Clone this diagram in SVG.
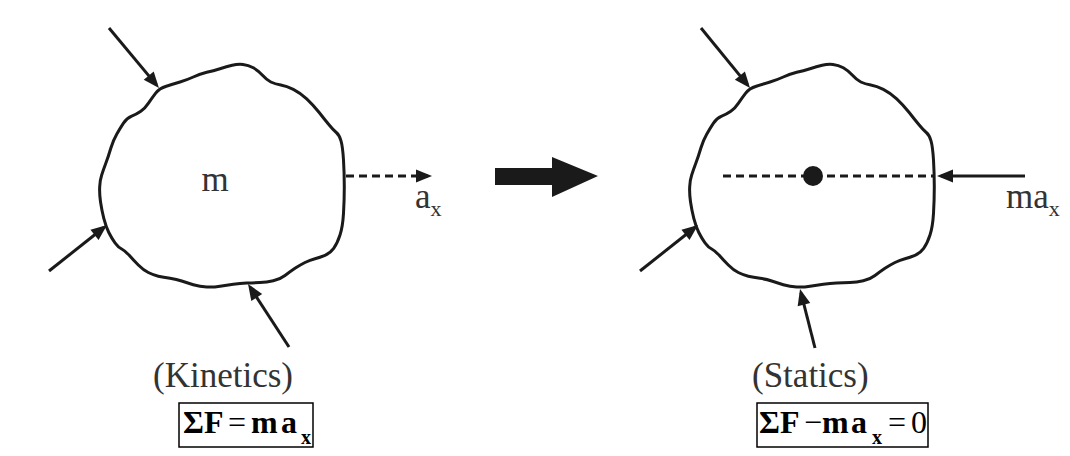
<svg xmlns="http://www.w3.org/2000/svg" width="1070" height="456" viewBox="0 0 1070 456">
<style>
.blob{fill:none;stroke:#1a1a1a;stroke-width:3;stroke-linejoin:round}
.arr{fill:none;stroke:#1a1a1a;stroke-width:3}
.dash{fill:none;stroke:#1a1a1a;stroke-width:3;stroke-dasharray:8 5}
.lbl{font-family:"Liberation Serif","Times New Roman",serif;font-size:35px;fill:#333}
.sub{font-size:22px}
.eq{font-family:"Liberation Serif","Times New Roman",serif;font-size:32px;fill:#000}
.b{font-weight:bold}
.box{fill:none;stroke:#000;stroke-width:1.5}
</style>
<defs>
<marker id="ah" markerUnits="userSpaceOnUse" markerWidth="16" markerHeight="13" refX="12" refY="6.5" orient="auto" overflow="visible">
<path d="M0,0 L16,6.5 L0,13 z" fill="#1a1a1a"/>
</marker>
<path id="blobpath" d="M155.5,93.3 Q159.3,88.3 166.3,86.2 Q173.3,84 180,82 Q186.7,80 193.3,77 Q200,74 206.7,72.3 Q213.3,70.7 220,68.7 Q226.7,66.7 232.2,65.3 Q237.7,64 243,64.5 Q248.3,65 253.3,67.8 Q258.3,70.7 262.5,75.3 Q266.7,80 270.8,82 Q275,84 280.8,85 Q286.7,86 293.3,89.3 Q300,92.7 306.7,98.8 Q313.3,105 319.2,112.5 Q325,120 329.2,125 Q333.3,130 336.3,132.5 Q339.3,135 341,140.8 Q342.7,146.7 343.5,160 Q344.3,173.3 344.3,186.7 Q344.3,200 343.5,213.3 Q342.7,226.7 340,235 Q337.3,243.3 333.7,248.3 Q330,253.3 325,255.3 Q320,257.3 315,258.7 Q310,260 305,262.5 Q300,265 295,268.3 Q290,271.7 285,275.5 Q280,279.3 273.3,280.8 Q266.7,282.3 260,282.5 Q253.3,282.7 246.7,283 Q240,283.3 233.3,284.2 Q226.7,285 220,286.2 Q213.3,287.3 206.7,287 Q200,286.7 193.3,284.7 Q186.7,282.7 181.7,281 Q176.7,279.3 170,278.3 Q163.3,277.3 158.3,276.2 Q153.3,275 148.3,272.5 Q143.3,270 138.3,265 Q133.3,260 129.2,255.3 Q125,250.7 121.7,249 Q118.3,247.3 115,242.8 Q111.7,238.3 108.8,232.5 Q106,226.7 103.8,218.3 Q101.7,210 100.5,201.7 Q99.3,193.3 99.7,186.7 Q100,180 101.7,175 Q103.3,170 105.8,163.3 Q108.3,156.7 110.8,148.3 Q113.3,140 116.7,134.2 Q120,128.3 123.3,123.3 Q126.7,118.3 131.7,116.2 Q136.7,114 140.8,111.2 Q145,108.3 148.3,103.3 Q151.7,98.3 155.5,93.3 Z"/>
</defs>

<g id="kinetic-body">
<use href="#blobpath" class="blob"/>
<text class="lbl" x="215" y="191" text-anchor="middle">m</text>
</g>

<g id="static-body">
<use href="#blobpath" class="blob" transform="translate(590,0)"/>
<circle cx="813" cy="176" r="10" fill="#1a1a1a"/>
</g>

<g id="connectors">
<line class="arr" x1="109" y1="28" x2="156.4" y2="84.9" marker-end="url(#ah)"/>
<line class="arr" x1="49" y1="271" x2="103.9" y2="227.5" marker-end="url(#ah)"/>
<line class="arr" x1="289" y1="347" x2="250.2" y2="287.4" marker-end="url(#ah)"/>
<line class="dash" x1="346" y1="176" x2="428" y2="176" marker-end="url(#ah)"/>

<line class="arr" x1="701" y1="28" x2="747.5" y2="84.9" marker-end="url(#ah)"/>
<line class="arr" x1="640" y1="271" x2="694.9" y2="227.5" marker-end="url(#ah)"/>
<line class="arr" x1="815" y1="348" x2="801" y2="292.9" marker-end="url(#ah)"/>
<line class="arr" x1="1025" y1="176" x2="941" y2="176" marker-end="url(#ah)"/>
<line class="dash" x1="723" y1="176" x2="935" y2="176"/>

<polygon points="495,168 552,168 552,157 598,176 552,197 552,185 495,185" fill="#1a1a1a"/>
</g>

<g id="labels">
<text class="lbl" x="415" y="208">a<tspan class="sub" y="216">x</tspan></text>
<text class="lbl" x="1006" y="208">ma<tspan class="sub" y="216">x</tspan></text>
<text class="lbl" x="153" y="387">(Kinetics)</text>
<text class="lbl" x="752" y="387">(Statics)</text>
</g>

<g id="eq-kinetics">
<rect class="box" x="179" y="403" width="134" height="44"/>
<text class="eq" y="433"><tspan x="183" class="b">ΣF</tspan><tspan x="228">=</tspan><tspan x="251" class="b">m</tspan><tspan x="281" class="b">a</tspan><tspan x="301" y="444" class="b" font-size="20">x</tspan></text>
</g>

<g id="eq-statics">
<rect class="box" x="757" y="403" width="171" height="44"/>
<text class="eq" y="433"><tspan x="759" class="b">ΣF</tspan><tspan x="804">−</tspan><tspan x="822" class="b">m</tspan><tspan x="851" class="b">a</tspan><tspan x="872" y="444" class="b" font-size="20">x</tspan><tspan x="888" y="433">=</tspan><tspan x="911">0</tspan></text>
</g>
</svg>
